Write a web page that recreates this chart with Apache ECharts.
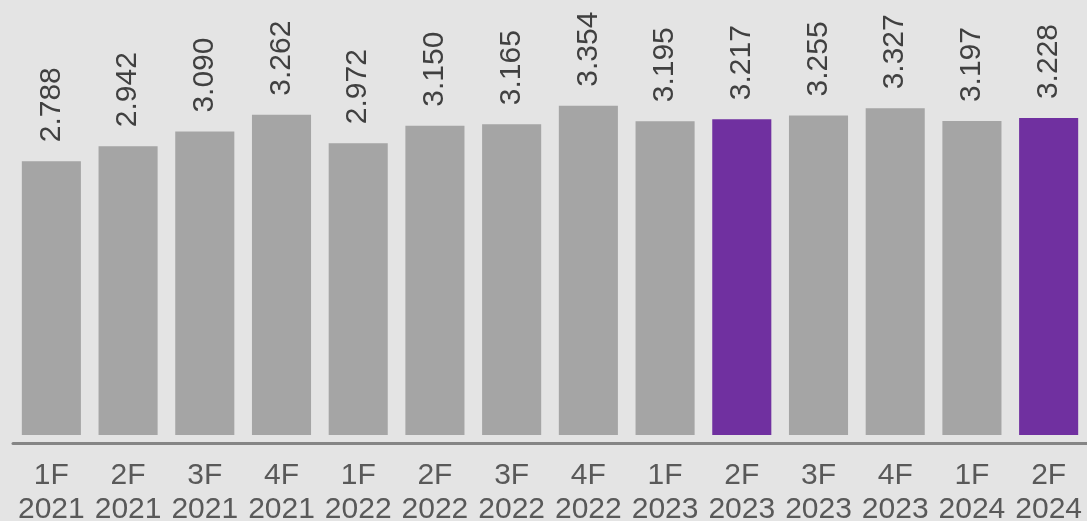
<!DOCTYPE html>
<html>
<head>
<meta charset="utf-8">
<script src="https://cdn.jsdelivr.net/npm/echarts@6/dist/echarts.min.js"></script>
<style>
  html, body { margin: 0; padding: 0; background: #e4e4e4; }
  #chart { width: 1087px; height: 521px; }
</style>
</head>
<body>
<div id="chart"></div>
<script>
// categories (semester / year)
var semesters = ["1F", "2F", "3F", "4F", "1F", "2F", "3F", "4F", "1F", "2F", "3F", "4F", "1F", "2F"];
var years = ["2021", "2021", "2021", "2021", "2022", "2022", "2022", "2022", "2023", "2023", "2023", "2023", "2024", "2024"];
var values = [2.788, 2.942, 3.090, 3.262, 2.972, 3.150, 3.165, 3.354, 3.195, 3.217, 3.255, 3.327, 3.197, 3.228];
// which bars are highlighted
var highlighted = [false, false, false, false, false, false, false, false, false, true, false, false, false, true];

var grey = "#a5a5a5";
var purple = "#7030a0";

var categories = semesters.map(function (s, i) {
  return s + "\n" + years[i];
});

var chart = echarts.init(document.getElementById("chart"));

var option = {
  backgroundColor: "#e4e4e4",
  animation: false,
  grid: {
    left: 13,
    right: 0,
    top: 3,
    bottom: 86,
    outerBoundsMode: "none",
    containLabel: false
  },
  xAxis: {
    type: "category",
    data: categories,
    offset: 8,
    axisLine: {
      show: true,
      onZero: false,
      lineStyle: { color: "#858585", width: 3 }
    },
    axisTick: { show: false },
    axisLabel: {
      interval: 0,
      margin: 16,
      color: "#595959",
      fontFamily: "Liberation Sans",
      fontSize: 30,
      lineHeight: 34
    }
  },
  yAxis: {
    type: "value",
    min: 0,
    max: 4.4,
    show: false
  },
  series: [
    {
      type: "bar",
      barCategoryGap: "23%",
      data: values.map(function (v, i) {
        return {
          value: v,
          itemStyle: { color: highlighted[i] ? purple : grey }
        };
      }),
      label: {
        show: true,
        position: "top",
        rotate: 90,
        align: "left",
        verticalAlign: "middle",
        distance: 19,
        color: "#404040",
        fontFamily: "Liberation Sans",
        fontSize: 30,
        formatter: function (p) {
          return p.value.toFixed(3);
        }
      }
    }
  ]
};

chart.setOption(option);
</script>
</body>
</html>
